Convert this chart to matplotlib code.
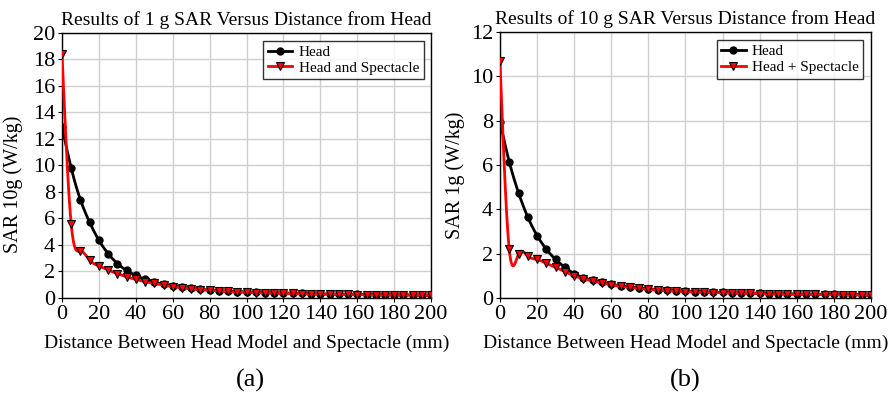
import numpy as np
import matplotlib.pyplot as plt

plt.rcParams['font.family'] = ['Liberation Serif', 'DejaVu Serif']

# distance between head model and spectacle (mm)
distance = list(range(0, 201, 5))

# (a) 1 g SAR
sar1_head = [12.9, 9.8, 7.4, 5.7, 4.35, 3.35, 2.6, 2.08, 1.7, 1.42, 1.2, 1.03, 0.9, 0.8,
             0.72, 0.65, 0.6, 0.55, 0.51, 0.48, 0.45, 0.43, 0.41, 0.39, 0.37, 0.355,
             0.34, 0.325, 0.31, 0.3, 0.29, 0.28, 0.27, 0.262, 0.255, 0.248, 0.24,
             0.235, 0.23, 0.225, 0.22]
sar1_spec = [18.4, 5.55, 3.55, 2.85, 2.42, 2.11, 1.84, 1.6, 1.4, 1.24, 1.1, 0.97, 0.86,
             0.77, 0.7, 0.63, 0.58, 0.53, 0.49, 0.46, 0.43, 0.41, 0.39, 0.37, 0.355,
             0.34, 0.325, 0.31, 0.3, 0.29, 0.28, 0.27, 0.26, 0.252, 0.245, 0.238,
             0.23, 0.225, 0.22, 0.215, 0.21]

# (b) 10 g SAR
sar10_head = [7.95, 6.15, 4.75, 3.65, 2.82, 2.2, 1.74, 1.38, 1.1, 0.92, 0.8, 0.7, 0.62,
              0.55, 0.5, 0.45, 0.41, 0.38, 0.35, 0.33, 0.31, 0.29, 0.275, 0.26, 0.25,
              0.24, 0.23, 0.22, 0.21, 0.2, 0.195, 0.188, 0.18, 0.175, 0.17, 0.165,
              0.16, 0.155, 0.15, 0.145, 0.14]
sar10_spec = [10.7, 2.2, 1.98, 1.89, 1.74, 1.56, 1.38, 1.19, 1.0, 0.87, 0.77, 0.68, 0.6,
              0.53, 0.48, 0.43, 0.39, 0.36, 0.33, 0.31, 0.29, 0.27, 0.26, 0.245, 0.235,
              0.225, 0.215, 0.205, 0.198, 0.19, 0.183, 0.176, 0.17, 0.165, 0.16, 0.155,
              0.15, 0.145, 0.14, 0.136, 0.132]


def natural_spline(x, y, n=1500):
    # smooth connecting line through the data points (natural cubic spline)
    x = np.asarray(x, float)
    y = np.asarray(y, float)
    k = len(x)
    h = np.diff(x)
    A = np.zeros((k, k))
    r = np.zeros(k)
    A[0, 0] = A[-1, -1] = 1
    for i in range(1, k - 1):
        A[i, i - 1] = h[i - 1]
        A[i, i] = 2 * (h[i - 1] + h[i])
        A[i, i + 1] = h[i]
        r[i] = 6 * ((y[i + 1] - y[i]) / h[i] - (y[i] - y[i - 1]) / h[i - 1])
    m = np.linalg.solve(A, r)
    xs = np.linspace(x[0], x[-1], n)
    j = np.clip(np.searchsorted(x, xs) - 1, 0, k - 2)
    t0 = x[j + 1] - xs
    t1 = xs - x[j]
    hj = h[j]
    ys = (m[j] * t0 ** 3 + m[j + 1] * t1 ** 3) / (6 * hj) \
        + (y[j] / hj - m[j] * hj / 6) * t0 + (y[j + 1] / hj - m[j + 1] * hj / 6) * t1
    return xs, ys


def draw_panel(ax, head, spec, title, ylabel, ymax, ystep, spec_label, ylab_xy):
    xs, ys = natural_spline(distance, head)
    ax.plot(xs, ys, color='black', lw=2, zorder=3)
    ax.plot(distance, head, 'o', color='black', ms=5, zorder=4)
    xs, ys = natural_spline(distance, spec)
    ax.plot(xs, ys, color='#ff0000', lw=2, zorder=5)
    ax.plot(distance, spec, 'v', color='#ff0000', mec='black', mew=0.8, ms=6, zorder=6)
    # legend proxies
    ax.plot([], [], '-o', color='black', lw=2, ms=5, label='Head')
    ax.plot([], [], '-v', color='#ff0000', mec='black', mew=0.8, lw=2, ms=6, label=spec_label)
    ax.set_xlim(0, 200)
    ax.set_ylim(0, ymax)
    ax.set_xticks(range(0, 201, 20))
    ax.set_yticks(np.arange(0, ymax + 0.1, ystep))
    ax.grid(True, color='#d0d0d0', lw=1)
    ax.set_axisbelow(True)
    for s in ax.spines.values():
        s.set_color('black')
        s.set_linewidth(1)
    ax.tick_params(labelsize=16, length=3, width=0.8, direction='out', pad=2)
    ax.set_title(title, fontsize=14, pad=6)
    ax.set_ylabel(ylabel, fontsize=14.5)
    ax.yaxis.set_label_coords(*ylab_xy)
    ax.set_xlabel('Distance Between Head Model and Spectacle (mm)', fontsize=14, labelpad=8)
    leg = ax.legend(loc='upper right', fontsize=11, frameon=True, fancybox=False,
                    borderpad=0.3, handlelength=1.6, handletextpad=0.4,
                    labelspacing=0.15, borderaxespad=0.5)
    leg.get_frame().set_edgecolor('black')
    leg.get_frame().set_linewidth(1)


fig = plt.figure(figsize=(8.96, 3.95), dpi=100)
ax1 = fig.add_axes([0.0692, 0.2456, 0.412, 0.671])
ax2 = fig.add_axes([0.558, 0.2456, 0.414, 0.673])

draw_panel(ax1, sar1_head, sar1_spec, 'Results of 1 g SAR Versus Distance from Head',
           'SAR 10g (W/kg)', 20, 2, 'Head and Spectacle', (-0.105, 0.43))
draw_panel(ax2, sar10_head, sar10_spec, 'Results of 10 g SAR Versus Distance from Head',
           'SAR 1g (W/kg)', 12, 2, 'Head + Spectacle', (-0.095, 0.46))

fig.text(0.279, 0.038, '(a)', fontsize=19, ha='center', va='center')
fig.text(0.765, 0.038, '(b)', fontsize=19, ha='center', va='center')

fig.savefig('out.png', dpi=100)
